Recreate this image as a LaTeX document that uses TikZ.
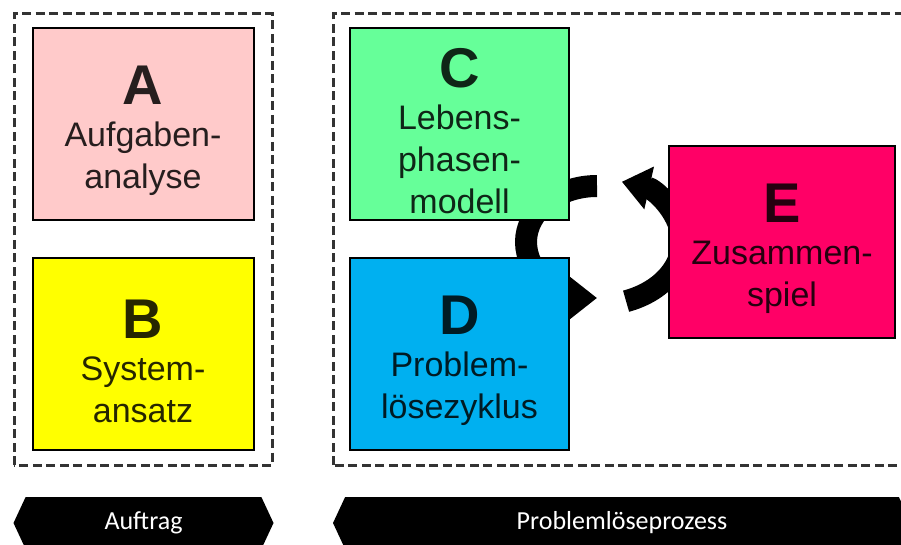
\documentclass[tikz,border=0pt]{standalone}
\usepackage{fontspec}
\setmainfont{Liberation Sans}
\newfontfamily\bandfont{Carlito}
\usetikzlibrary{arrows.meta, shapes.symbols}

\definecolor{aufgabe}{RGB}{255,202,202}
\definecolor{system}{RGB}{255,255,0}
\definecolor{lebens}{RGB}{102,255,153}
\definecolor{zyklus}{RGB}{0,176,240}
\definecolor{spiel}{RGB}{255,0,102}

\tikzset{
  feld/.style={draw=black, line width=2pt, fill=#1, text=#1!15!black,
    minimum width=221pt, minimum height=192pt, inner sep=0pt, align=center,
    font=\fontsize{34}{42}\selectfont},
  rahmen/.style={draw=black!80, line width=3pt, dash pattern=on 9pt off 4.5pt},
  kreis/.style={line width=22pt, -{Triangle[length=28pt, width=42pt]}},
  band/.style={shape=signal, signal to=west and east, signal pointer angle=130,
    fill=black, text=white, minimum height=52pt, inner sep=0pt,
    font=\bandfont\fontsize{26}{30}\selectfont},
}
\newcommand{\kennung}[1]{\raisebox{0pt}[53pt][0pt]{\fontsize{56}{42}\selectfont\bfseries #1}}

\begin{document}
\begin{tikzpicture}[x=1pt, y=1pt]
  \useasboundingbox (0,0) rectangle (901,544);
  \clip (0,0) rectangle (901,544);

  % gestrichelte Rahmen
  \draw[rahmen] (14,79) rectangle (272,530);
  \draw[rahmen] (333,79) rectangle (920,530);

  % Kreislauf, liegt hinter den Feldern
  \coordinate (mitte) at (597,302);
  \draw[kreis] ([shift={(90:71 and 56)}]mitte) arc[start angle=90, end angle=270, x radius=71, y radius=56];
  \draw[kreis] ([shift={(5:85 and 63)}]mitte) arc[start angle=5, end angle=73, x radius=85, y radius=63];
  \draw[kreis, -] ([shift={(-70:85 and 63)}]mitte) arc[start angle=-70, end angle=5, x radius=85, y radius=63];

  \node[feld=aufgabe] (A) at (143,420) {\kennung{A}\\Aufgaben-\\analyse};
  \node[feld=system]  (B) at (143,190) {\kennung{B}\\System-\\ansatz};
  \node[feld=lebens, minimum width=219pt] (C) at (459.5,420) {\kennung{C}\\Lebens-\\phasen-\\modell};
  \node[feld=zyklus, minimum width=219pt] (D) at (459.5,190) {\kennung{D}\\Problem-\\lösezyklus};
  \node[feld=spiel, minimum width=226pt]  (E) at (782,302) {\kennung{E}\\Zusammen-\\spiel};

  % Baender unten
  \node[band, minimum width=260pt] (auftrag) at (143.5,21) {Auftrag};
  \node[band, minimum width=578pt] (prozess) at (622,21) {Problemlöseprozess};
\end{tikzpicture}
\end{document}
